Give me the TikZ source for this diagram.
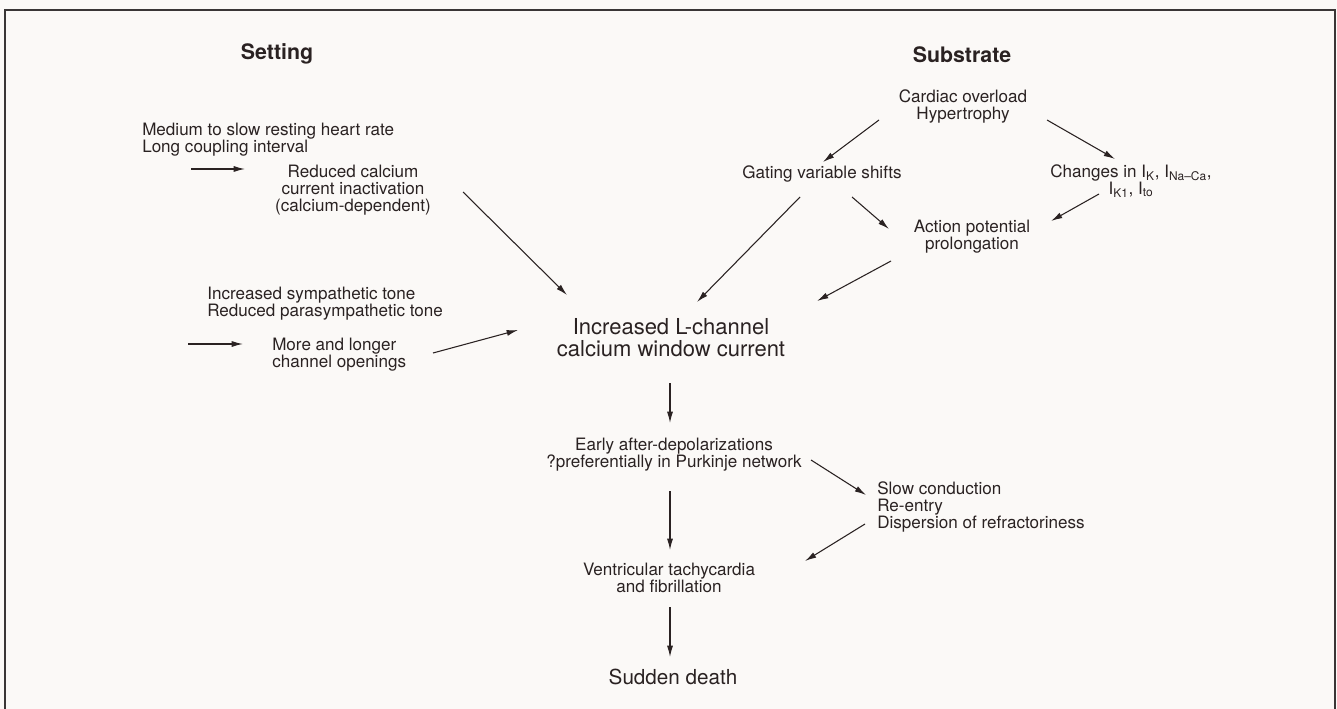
\documentclass[tikz,border=0pt]{standalone}
\usepackage{fontspec}
\setmainfont{TeX Gyre Heros}
\usetikzlibrary{arrows.meta}
\definecolor{ink}{HTML}{2A2222}
\definecolor{paper}{HTML}{FBF9F7}
\definecolor{framec}{HTML}{3A3636}
\tikzset{
  txt/.style={inner sep=0pt, text=ink, font=\fontsize{12.8}{12.75}\selectfont},
  bigtxt/.style={inner sep=0pt, text=ink, font=\fontsize{16.5}{16.5}\selectfont},
  headtxt/.style={inner sep=0pt, text=ink, font=\bfseries\fontsize{16}{19}\selectfont},
  arr/.style={draw=ink, line width=0.8pt, -{Latex[length=8.5pt,width=4.5pt]}}
}
\begin{document}
\begin{tikzpicture}[x=0.75pt,y=-0.75pt]
\path[use as bounding box, fill=paper] (0,0) rectangle (1337,709);
\draw[framec, line width=1.4pt] (5,712) -- (5,10) -- (1335,10) -- (1335,712);

% headings
\node[headtxt] (set) at (277,54) {Setting};
\node[headtxt] (sub) at (962,55) {Substrate};

% left column
\node[txt, anchor=west, align=left] (med) at (142,140) {Medium to slow resting heart rate\\Long coupling interval};
\node[txt, align=center] (red) at (353,190) {Reduced calcium\\current inactivation\\(calcium-dependent)};
\node[txt, anchor=west, align=left] (sym) at (207,304) {Increased sympathetic tone\\Reduced parasympathetic tone};
\node[txt, anchor=west, align=left] (more) at (272,355) {More and longer\\channel openings};

% right column
\node[txt, align=center] (card) at (963,106) {Cardiac overload\\Hypertrophy};
\node[txt] (gat) at (822,174) {Gating variable shifts};
\node[txt, align=center] (chg) at (1131,181) {Changes in I\textsubscript{K}, I\textsubscript{Na\textendash Ca},\\I\textsubscript{K1}, I\textsubscript{to}};
\node[txt, align=center] (ap) at (972,237) {Action potential\\prolongation};

% centre column
\node[bigtxt, align=center] (inc) at (671,338) {Increased L-channel\\calcium window current};
\node[txt, align=center] (early) at (674,455) {Early after-depolarizations\\?preferentially in Purkinje network};
\node[txt, anchor=west, align=left] (slow) at (877,507) {Slow conduction\\Re-entry\\Dispersion of refractoriness};
\node[txt, align=center] (vent) at (669,578) {Ventricular tachycardia\\and fibrillation};
\node[bigtxt, font=\fontsize{15.5}{16}\selectfont] (sud) at (673,677) {Sudden death};

% free arrow tails
\coordinate (mfree) at (191,169);
\coordinate (sfree) at (188,344);

% connectors
\draw[arr] (mfree) -- ([shift={(-108,-21)}]red.center);
\draw[arr] (sfree) -- ([shift={(-29,-11)}]more.west);
\draw[arr] ([shift={(110,2)}]red.center) -- ([shift={(-104,-43)}]inc.center);
\draw[arr] ([shift={(161,-2)}]more.west) -- ([shift={(-153,-8)}]inc.center);
\draw[arr] ([shift={(-84,14)}]card.center) -- ([shift={(1,-12)}]gat.center);
\draw[arr] ([shift={(84,14)}]card.center) -- ([shift={(-16,-22)}]chg.center);
\draw[arr] ([shift={(-32,13)}]chg.center) -- ([shift={(79,-16)}]ap.center);
\draw[arr] ([shift={(30,23)}]gat.center) -- ([shift={(-83,-8)}]ap.center);
\draw[arr] ([shift={(-22,23)}]gat.center) -- ([shift={(26,-36)}]inc.center);
\draw[arr] ([shift={(-81,24)}]ap.center) -- ([shift={(146,-37)}]inc.center);
\draw[arr] ([shift={(-1,45)}]inc.center) -- ([shift={(-4,-32)}]early.center);
\draw[arr] ([shift={(137,5)}]early.center) -- ([shift={(-11,-12)}]slow.west);
\draw[arr] ([shift={(-4,36)}]early.center) -- ([shift={(1,-28)}]vent.center);
\draw[arr] ([shift={(-12,17)}]slow.west) -- ([shift={(136,-17)}]vent.center);
\draw[arr] ([shift={(1,29)}]vent.center) -- ([shift={(-3,-20)}]sud.center);
\end{tikzpicture}
\end{document}
